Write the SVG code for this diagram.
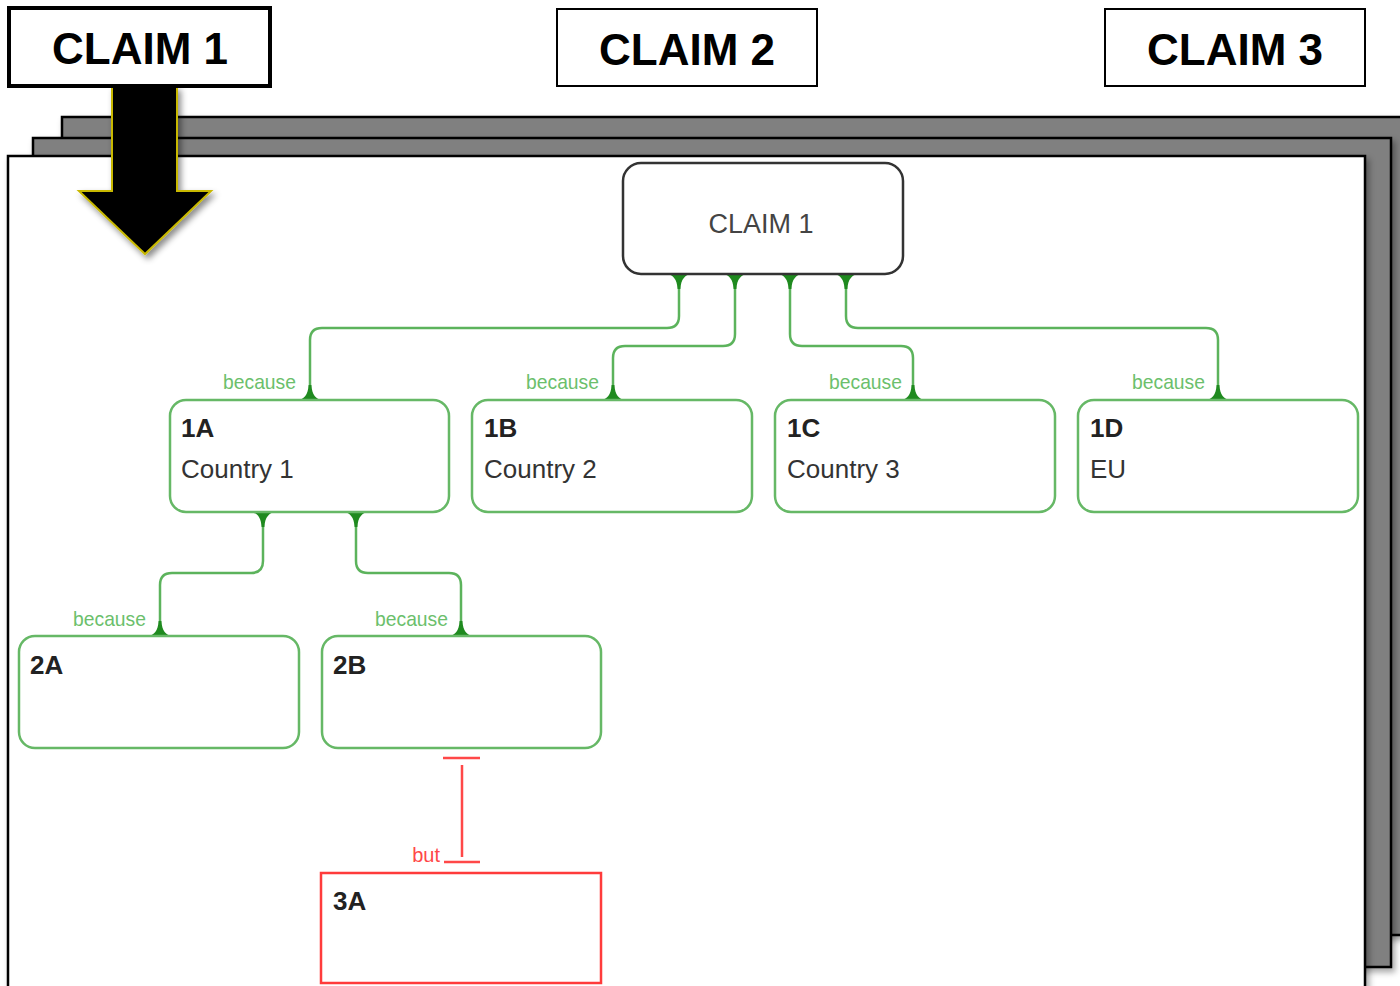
<svg xmlns="http://www.w3.org/2000/svg" width="1400" height="986" viewBox="0 0 1400 986">
<defs>
<filter id="sh" x="-10%" y="-10%" width="130%" height="130%">
<feDropShadow dx="3" dy="4" stdDeviation="3" flood-color="#000" flood-opacity="0.35"/>
</filter>
<filter id="ash" x="-30%" y="-30%" width="170%" height="170%">
<feDropShadow dx="3" dy="4" stdDeviation="3" flood-color="#000" flood-opacity="0.45"/>
</filter>
<path id="fd" d="M-12,0 C-6,1 -2,5 -1.4,15 H1.4 C2,5 6,1 12,0 Z"/>
<path id="fu" d="M-12,0 C-6,-1 -2,-5 -1.4,-15 H1.4 C2,-5 6,-1 12,0 Z"/>
</defs>
<style>
.sheet{fill:#808080;stroke:#000;stroke-width:2.5}
.front{fill:#fff;stroke:#000;stroke-width:2.5}
.hbox{fill:#fff;stroke:#000}
.htxt{font-family:"Liberation Sans",Arial,sans-serif;font-weight:bold;font-size:44px;fill:#000;text-anchor:middle}
.node{fill:#fff;stroke:#66b866;stroke-width:2.5}
.root{fill:#fff;stroke:#333;stroke-width:2.5}
.red{fill:#fff;stroke:#ff3b3b;stroke-width:2.5}
.id{font-family:"Liberation Sans",Arial,sans-serif;font-weight:bold;font-size:26px;fill:#222}
.lab{font-family:"Liberation Sans",Arial,sans-serif;font-size:26px;fill:#333}
.conn{fill:none;stroke:#5cb35c;stroke-width:2.5}
.fl{fill:#1f8a1f}
.bc{font-family:"Liberation Sans",Arial,sans-serif;font-size:21px;fill:#6cbf6c;text-anchor:end}
.rc{fill:none;stroke:#ff4848;stroke-width:2.5}
</style>
<g id="sheets">
<rect class="sheet" x="62" y="117" width="1350" height="818" filter="url(#sh)"/>
<rect class="sheet" x="33" y="138" width="1358" height="829" filter="url(#sh)"/>
<rect class="front" x="8" y="156" width="1357" height="840" filter="url(#sh)"/>
</g>
<g id="connectors">
<path class="conn" d="M679,274 V316 Q679,328 667,328 H322 Q310,328 310,340 V400"/>
<path class="conn" d="M735,274 V334 Q735,346 723,346 H625 Q613,346 613,358 V400"/>
<path class="conn" d="M790,274 V334 Q790,346 802,346 H901 Q913,346 913,358 V400"/>
<path class="conn" d="M846,274 V316 Q846,328 858,328 H1206 Q1218,328 1218,340 V400"/>
<path class="conn" d="M263,512 V561 Q263,573 251,573 H172 Q160,573 160,585 V636"/>
<path class="conn" d="M356,512 V561 Q356,573 368,573 H449 Q461,573 461,585 V636"/>
<use href="#fd" class="fl" x="679" y="274"/>
<use href="#fd" class="fl" x="735" y="274"/>
<use href="#fd" class="fl" x="790" y="274"/>
<use href="#fd" class="fl" x="846" y="274"/>
<use href="#fu" class="fl" x="310" y="400"/>
<use href="#fu" class="fl" x="613" y="400"/>
<use href="#fu" class="fl" x="913" y="400"/>
<use href="#fu" class="fl" x="1218" y="400"/>
<use href="#fd" class="fl" x="263" y="512"/>
<use href="#fd" class="fl" x="356" y="512"/>
<use href="#fu" class="fl" x="160" y="636"/>
<use href="#fu" class="fl" x="461" y="636"/>
<text class="bc" x="296" y="389" textLength="73" lengthAdjust="spacingAndGlyphs">because</text>
<text class="bc" x="599" y="389" textLength="73" lengthAdjust="spacingAndGlyphs">because</text>
<text class="bc" x="902" y="389" textLength="73" lengthAdjust="spacingAndGlyphs">because</text>
<text class="bc" x="1205" y="389" textLength="73" lengthAdjust="spacingAndGlyphs">because</text>
<text class="bc" x="146" y="626" textLength="73" lengthAdjust="spacingAndGlyphs">because</text>
<text class="bc" x="448" y="626" textLength="73" lengthAdjust="spacingAndGlyphs">because</text>
<path class="rc" d="M443,758 H480 M462,765 V857 M444,862 H480"/>
<text x="440" y="862" text-anchor="end" style="font-family:'Liberation Sans',Arial,sans-serif;font-size:20px;fill:#ff4848">but</text>
</g>
<g id="claim1-root">
<rect class="root" x="623" y="163" width="280" height="111" rx="18"/>
<text x="761" y="233" text-anchor="middle" style="font-family:'Liberation Sans',Arial,sans-serif;font-size:27px;fill:#444">CLAIM 1</text>
</g>
<g id="n1A">
<rect class="node" x="170" y="400" width="279" height="112" rx="16"/>
<text class="id" x="181" y="437">1A</text>
<text class="lab" x="181" y="478">Country 1</text>
</g>
<g id="n1B">
<rect class="node" x="472" y="400" width="280" height="112" rx="16"/>
<text class="id" x="484" y="437">1B</text>
<text class="lab" x="484" y="478">Country 2</text>
</g>
<g id="n1C">
<rect class="node" x="775" y="400" width="280" height="112" rx="16"/>
<text class="id" x="787" y="437">1C</text>
<text class="lab" x="787" y="478">Country 3</text>
</g>
<g id="n1D">
<rect class="node" x="1078" y="400" width="280" height="112" rx="16"/>
<text class="id" x="1090" y="437">1D</text>
<text class="lab" x="1090" y="478">EU</text>
</g>
<g id="n2A">
<rect class="node" x="19" y="636" width="280" height="112" rx="16"/>
<text class="id" x="30" y="674">2A</text>
</g>
<g id="n2B">
<rect class="node" x="322" y="636" width="279" height="112" rx="16"/>
<text class="id" x="333" y="674">2B</text>
</g>
<g id="n3A">
<rect class="red" x="321" y="873" width="280" height="110"/>
<text class="id" x="333" y="910">3A</text>
</g>
<g id="arrow">
<path d="M112,87 H177 V191 H211 L145,254 L79,191 H112 Z" fill="#000" stroke="#c8b800" stroke-width="2" filter="url(#ash)"/>
</g>
<g id="heading1">
<rect class="hbox" x="9" y="8" width="261" height="78" stroke-width="4"/>
<text class="htxt" x="140" y="64">CLAIM 1</text>
</g>
<g id="heading2">
<rect class="hbox" x="557" y="9" width="260" height="77" stroke-width="2"/>
<text class="htxt" x="687" y="65">CLAIM 2</text>
</g>
<g id="heading3">
<rect class="hbox" x="1105" y="9" width="260" height="77" stroke-width="2"/>
<text class="htxt" x="1235" y="65">CLAIM 3</text>
</g>
</svg>
